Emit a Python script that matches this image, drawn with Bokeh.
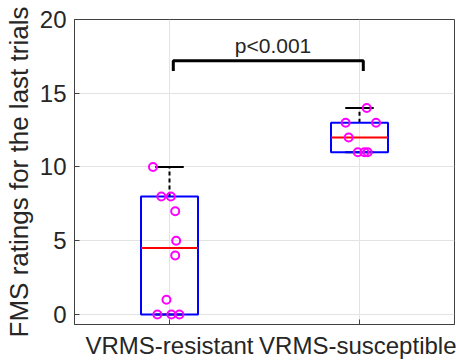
import numpy as np
from bokeh.plotting import figure
from bokeh.models import Range1d, FixedTicker, Label
from bokeh.embed import file_html
from bokeh.resources import INLINE

# ---- data ----
groups = ["VRMS-resistant", "VRMS-susceptible"]
group_pos = [1, 2]
resistant = [10, 8, 8, 7, 5, 4, 1, 0, 0, 0]
resistant_jitter = [-0.087, -0.043, 0.007, 0.030, 0.035, 0.030, -0.016, -0.064, 0.010, 0.052]
susceptible = [14, 13, 13, 12, 11, 11, 11]
susceptible_jitter = [0.038, -0.073, 0.087, -0.057, -0.009, 0.026, 0.043]
y_ticks = [0, 5, 10, 15, 20]
y_label = "FMS ratings for the last trials"
p_text = "p<0.001"

FONT = "Liberation Sans"
TXT = "#262626"

p = figure(width=456, height=362, output_backend="svg", toolbar_location=None,
           x_range=Range1d(0.5, 2.5), y_range=Range1d(-0.68, 20),
           min_border_left=74, min_border_right=2, min_border_top=19, min_border_bottom=38)
p.background_fill_color = "white"
p.border_fill_color = "white"
p.outline_line_color = "#404040"
p.outline_line_width = 1

# grid
p.xgrid.ticker = FixedTicker(ticks=group_pos)
p.ygrid.ticker = FixedTicker(ticks=y_ticks)
p.grid.grid_line_color = "#e3e3e3"
p.grid.grid_line_width = 1

# axes
p.xaxis.ticker = FixedTicker(ticks=group_pos)
p.xaxis.major_label_overrides = {g: n for g, n in zip(group_pos, groups)}
p.yaxis.ticker = FixedTicker(ticks=y_ticks)
for ax in (p.xaxis[0], p.yaxis[0]):
    ax.axis_line_color = "#404040"
    ax.major_tick_line_color = "#404040"
    ax.major_tick_in = 5
    ax.major_tick_out = 0
    ax.minor_tick_line_color = None
    ax.major_label_text_font = FONT
    ax.major_label_text_color = TXT
    ax.major_label_text_font_size = "24px"
p.xaxis.major_label_standoff = 7
p.yaxis.major_label_standoff = 8
p.yaxis.axis_label = y_label
p.yaxis.axis_label_text_font = FONT
p.yaxis.axis_label_text_font_style = "normal"
p.yaxis.axis_label_text_font_size = "26px"
p.yaxis.axis_label_text_color = TXT
p.yaxis.axis_label_standoff = 3

half_box = 0.15
half_cap = 0.075

for pos, vals, jit in [(group_pos[0], resistant, resistant_jitter),
                       (group_pos[1], susceptible, susceptible_jitter)]:
    v = np.array(vals, dtype=float)
    q1, med, q3 = np.percentile(v, [25, 50, 75], method="hazen")
    iqr = q3 - q1
    upper = v[v <= q3 + 1.5 * iqr].max()
    lower = v[v >= q1 - 1.5 * iqr].min()
    # whiskers
    p.segment(x0=[pos, pos], y0=[q3, q1], x1=[pos, pos], y1=[upper, lower],
              line_color="black", line_width=2, line_dash="4 3")
    # caps
    p.segment(x0=[pos - half_cap] * 2, y0=[upper, lower], x1=[pos + half_cap] * 2, y1=[upper, lower],
              line_color="black", line_width=2)
    # box
    p.quad(left=pos - half_box, right=pos + half_box, bottom=q1, top=q3,
           fill_alpha=0, line_color="#0000ff", line_width=2)
    # median
    p.segment(x0=[pos - half_box], y0=[med], x1=[pos + half_box], y1=[med],
              line_color="#ff0000", line_width=2)
    # points
    p.scatter(x=[pos + j for j in jit], y=vals, marker="circle", size=8,
              fill_alpha=0, line_color="#ff00ff", line_width=2)

# significance bracket
b0 = group_pos[0] + 0.02
b1 = group_pos[1] + 0.02
by, bd = 17.2, 16.5
p.line(x=[b0, b0, b1, b1], y=[bd, by, by, bd], line_color="black", line_width=3)
p.add_layout(Label(x=(b0 + b1) / 2 + 0.025, y=18.25, text=p_text, text_align="center",
                   text_baseline="middle", text_font=FONT, text_font_size="21px",
                   text_color=TXT))

open("out.html", "w").write(file_html(p, INLINE))
